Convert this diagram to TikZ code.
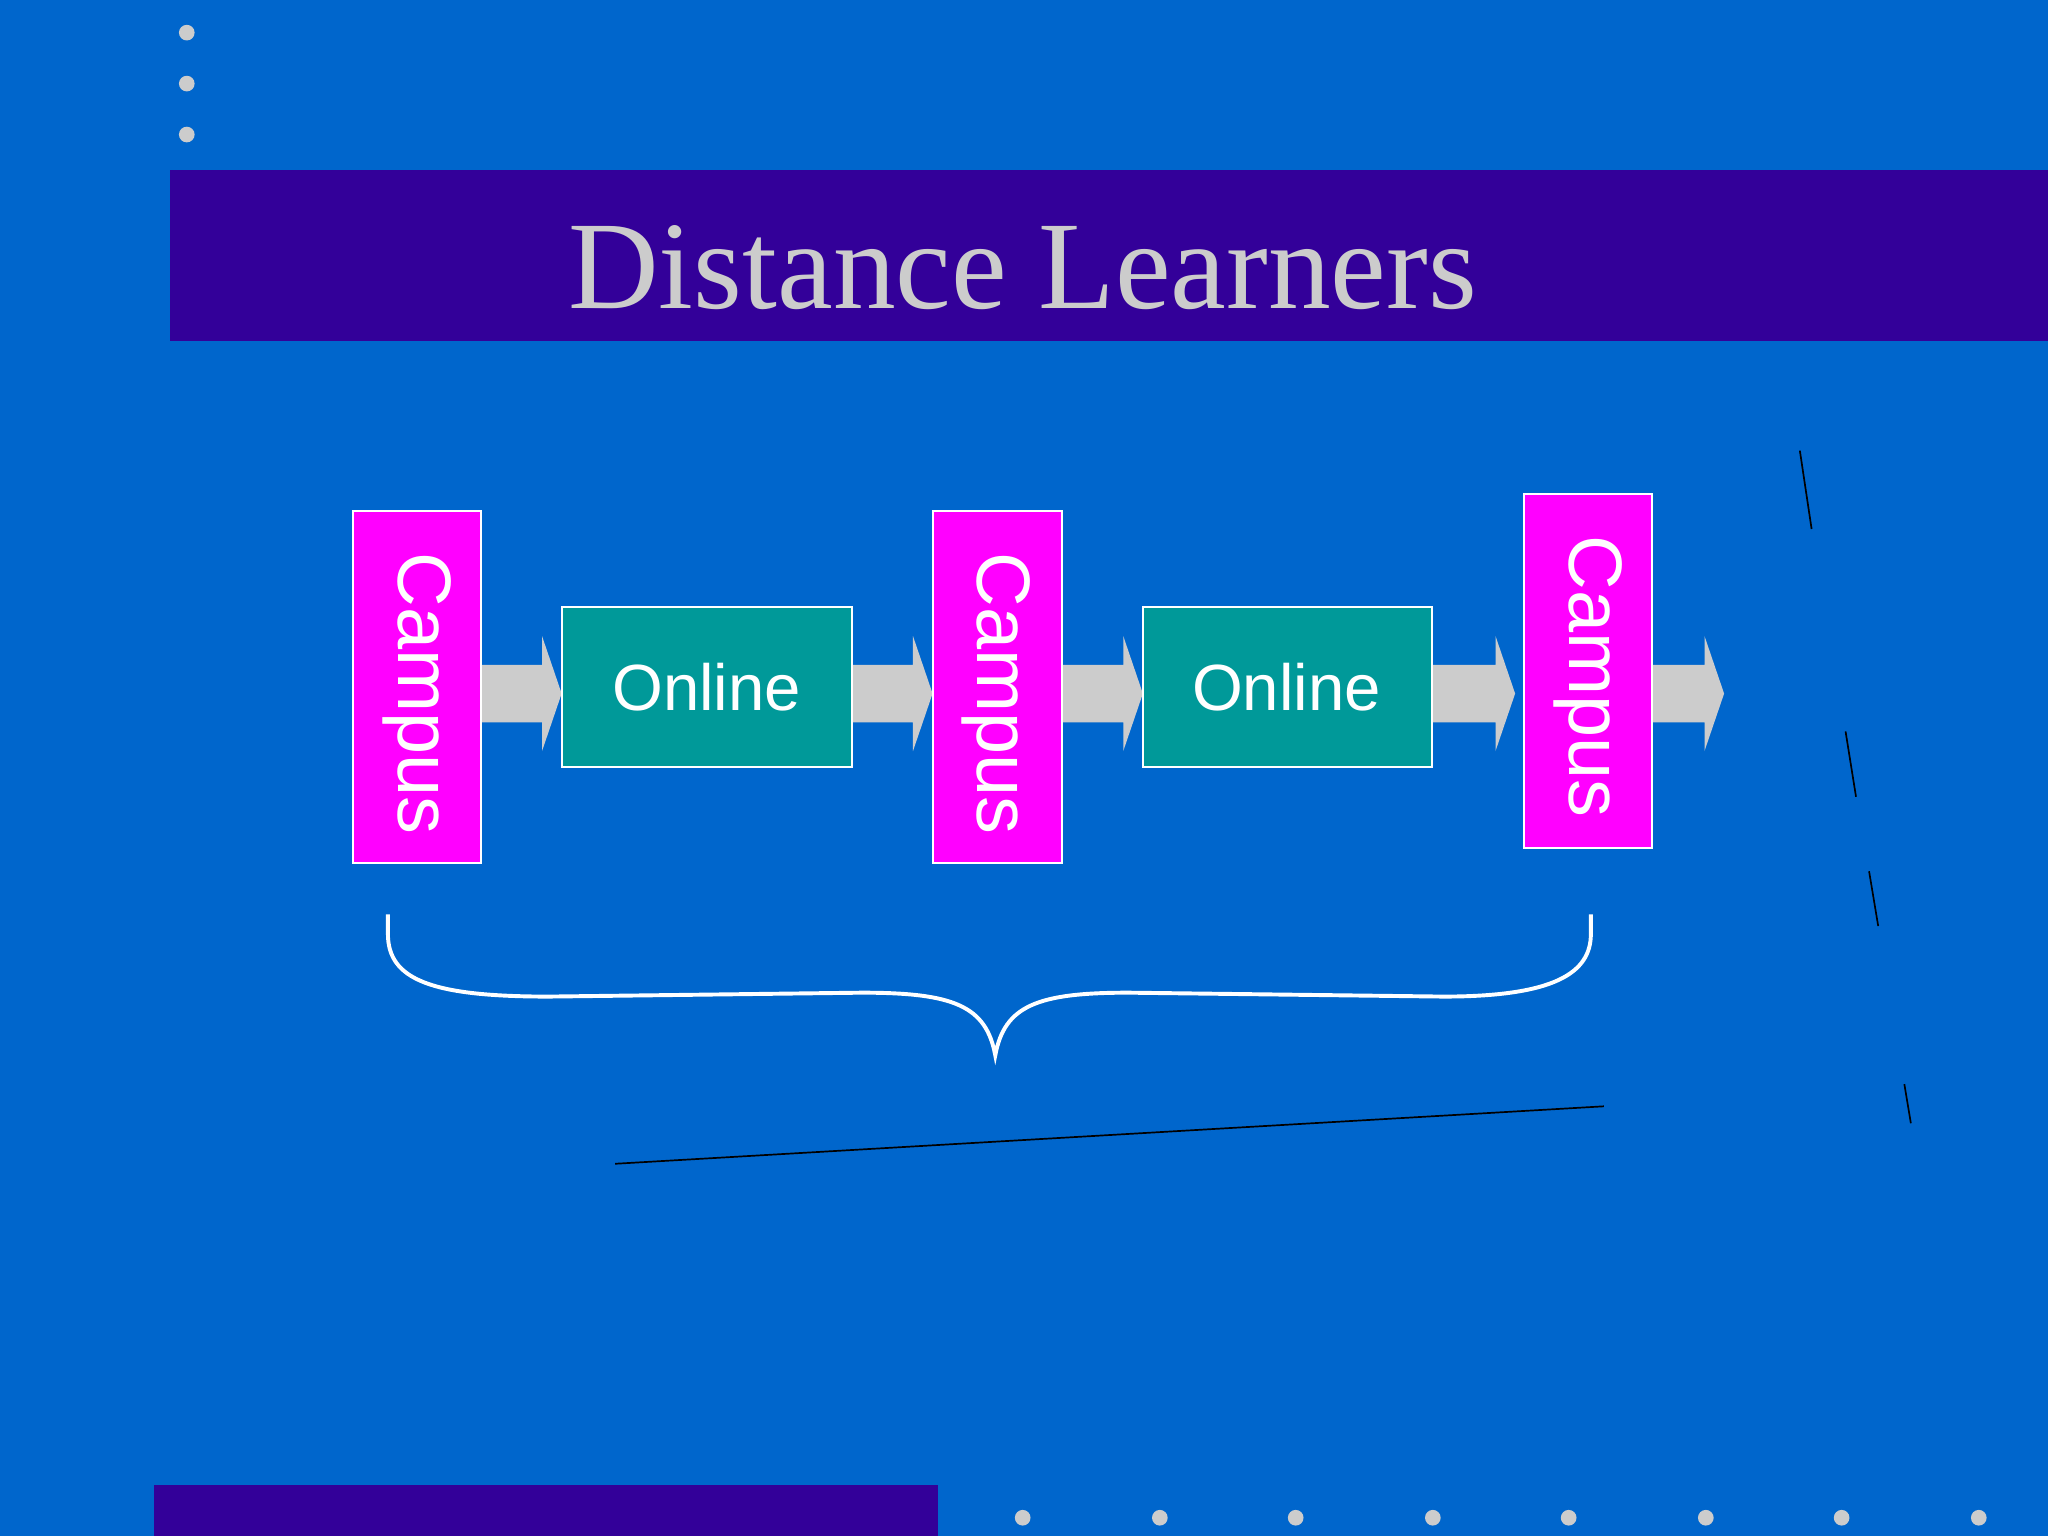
\documentclass[tikz,border=0pt]{standalone}
\usepackage{fontspec}
\setmainfont{Liberation Serif}
\newfontfamily\arial{Liberation Sans}
\definecolor{bg}{RGB}{0,102,204}
\definecolor{band}{RGB}{51,0,153}
\definecolor{lgray}{RGB}{204,204,204}
\definecolor{mag}{RGB}{255,0,255}
\definecolor{teal2}{RGB}{0,153,153}
\begin{document}
\begin{tikzpicture}[x=1pt,y=-1pt,
  campusbox/.style={draw=white,line width=1.5pt,fill=mag},
  onlinebox/.style={draw=white,line width=1.5pt,fill=teal2},
  dot/.style={fill=lgray},
  garrow/.style={fill=lgray,draw=none}]
\fill[bg] (0,0) rectangle (1568,1176);
\useasboundingbox (0,0) rectangle (1568,1176);
\fill[band] (130,130) rectangle (1568,261);
\node[text=lgray,font=\fontsize{96}{100}\selectfont] (title) at (783,205) {Distance Learners};
\foreach \y in {25,64,103} \fill[dot] (143,\y) circle (6);
\fill[band] (118,1137) rectangle (718,1176);
\foreach \x in {783,888,992,1097,1201,1306,1410,1515} \fill[dot] (\x,1162) circle (6);
% arrows
\foreach \a/\b in {368/430,652/714,813/875,1096/1160,1265/1320}{
  \fill[garrow] (\a,509) -- ({\b-15},509) -- ({\b-15},487) -- (\b,531) -- ({\b-15},575) -- ({\b-15},553) -- (\a,553) -- cycle;}
% boxes
\draw[campusbox] (270,391) rectangle (368,661);
\draw[campusbox] (714,391) rectangle (813,661);
\draw[campusbox] (1167,378) rectangle (1265,649);
\draw[onlinebox] (430,465) rectangle (652,587);
\draw[onlinebox] (875,465) rectangle (1096,587);
\foreach \n/\x/\y in {c1/319/531,c2/763/531,c3/1216/518}
  \node[text=white,rotate=-90,font=\arial\fontsize{58}{60}\selectfont] (\n) at (\x,\y) {Campus};
\foreach \n/\x in {o1/541,o2/985}
  \node[text=white,font=\arial\fontsize{50}{52}\selectfont] (\n) at (\x,526) {Online};
% brace
\draw[white,line width=3pt] (297,700) -- (297,715) .. controls (297,750) and (330,763) .. (420,763)
  -- (660,760) .. controls (730,760) and (755,770) .. (762,808)
  .. controls (769,770) and (794,760) .. (864,760) -- (1105,763)
  .. controls (1190,763) and (1218,745) .. (1218,715) -- (1218,700);
% black lines
\draw[black,line width=1.3pt] (471,891) -- (1228,847);
\foreach \a/\b/\c/\d in {1378/345/1387/405,1413/560/1421/610,1431/667/1438/709,1458/830/1463/860}
  \draw[black,line width=1.3pt] (\a,\b) -- (\c,\d);
\end{tikzpicture}
\end{document}
